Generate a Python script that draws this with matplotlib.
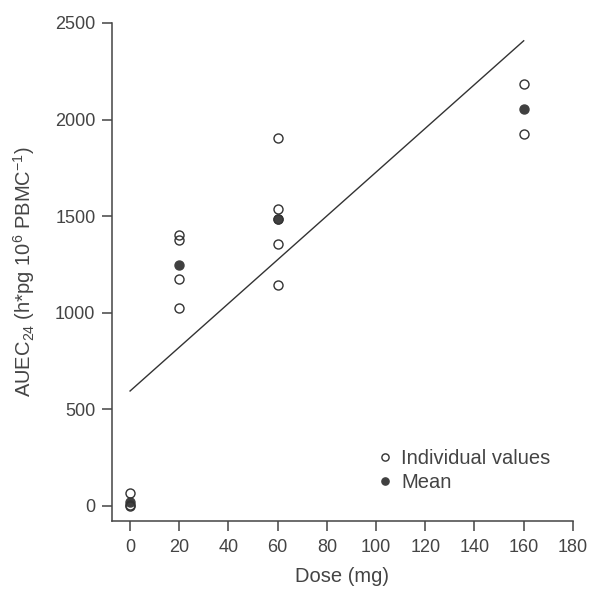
import matplotlib
matplotlib.use("Agg")
import matplotlib.pyplot as plt
import numpy as np

plt.rcParams['font.family'] = ['Liberation Sans', 'DejaVu Sans']
plt.rcParams['mathtext.fontset'] = 'custom'
plt.rcParams['mathtext.rm'] = 'Liberation Sans'
plt.rcParams['mathtext.it'] = 'Liberation Sans:italic'

# Data
ind_dose = [0, 0, 0, 20, 20, 20, 20, 60, 60, 60, 60, 60, 160, 160]
ind_vals = [65, 5, 0, 1403, 1377, 1175, 1025, 1905, 1535, 1485, 1355, 1145, 2182, 1925]
mean_dose = [0, 20, 60, 160]
mean_vals = [18, 1245, 1485, 2055]
fit_intercept = 595
fit_slope = 11.33
fit_x = [0, 160]

xticks = [0, 20, 40, 60, 80, 100, 120, 140, 160, 180]
yticks = [0, 500, 1000, 1500, 2000, 2500]

tc = '#444444'
fig = plt.figure(figsize=(5.9, 5.89), dpi=100)
ax = fig.add_axes([0.19, 0.1154, 0.781, 0.8456])

fx = np.array(fit_x)
ax.plot(fx, fit_intercept + fit_slope * fx, color='#333333', lw=1.0, zorder=1)
ax.plot(mean_dose, mean_vals, 'o', color='#404040', ms=6.5, mec='#404040', zorder=2, label='Mean')
ax.plot(ind_dose, ind_vals, 'o', mfc='none', mec='#333333', mew=1.0, ms=6.5, zorder=3, label='Individual values')

ax.set_xlim(-7.3, 180)
ax.set_ylim(-78, 2500)
ax.set_xticks(xticks)
ax.set_yticks(yticks)
for s in ['top', 'right']:
    ax.spines[s].set_visible(False)
for s in ['left', 'bottom']:
    ax.spines[s].set_color(tc)
    ax.spines[s].set_linewidth(1.1)
ax.tick_params(colors=tc, labelsize=13, length=7, width=1.1, labelcolor=tc)
ax.tick_params(axis='y', pad=5)
ax.tick_params(axis='x', pad=6)

ax.set_xlabel('Dose (mg)', fontsize=14.5, color=tc, labelpad=8)
ax.set_ylabel('AUEC$_{24}$ (h*pg 10$^{6}$ PBMC$^{-1}$)', fontsize=14.5, color=tc, labelpad=13)

h, l = ax.get_legend_handles_labels()
ax.legend([h[1], h[0]], [l[1], l[0]], loc='lower right', bbox_to_anchor=(0.99, 0.022),
          frameon=False, fontsize=14.5, handletextpad=0.3, labelspacing=0.25,
          handlelength=1.0, labelcolor=tc, markerscale=0.8)

fig.savefig('out.png', dpi=100)
